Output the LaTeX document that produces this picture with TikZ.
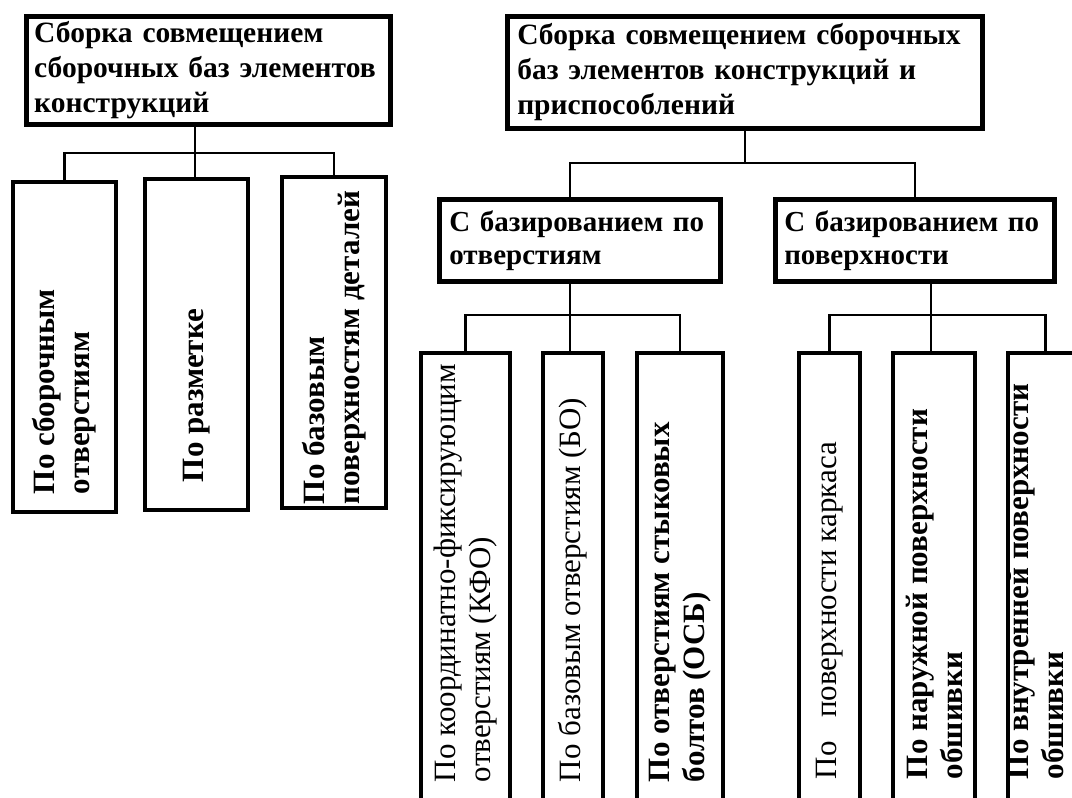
\documentclass[tikz,border=0pt]{standalone}
\usepackage{fontspec}
\setmainfont{Liberation Serif}
\usetikzlibrary{positioning}
\tikzstyle{topbox} = [rectangle, draw=black, line width=4.5pt, anchor=north west, align=left, inner ysep=2pt, font=\bfseries\fontsize{29.5}{35}\selectfont]
\tikzstyle{midbox} = [rectangle, draw=black, line width=4.5pt, anchor=north west, align=left, inner ysep=2pt, font=\bfseries\fontsize{29}{33}\selectfont]
\tikzstyle{vbox} = [rectangle, draw=black, line width=4.5pt]
\tikzstyle{vlabel} = [rotate=90, anchor=west, align=left, inner sep=0pt, font=\bfseries\fontsize{31}{35}\selectfont]
\tikzstyle{vlabel_thin} = [vlabel, font=\fontsize{31}{35}\selectfont]
\tikzstyle{link} = [line width=2.5pt]

\begin{document}
\begin{tikzpicture}[x=1pt, y=-1pt]
  \useasboundingbox (0,0) rectangle (1072,798);
  \clip (0,0) rectangle (1072,798);

  % left tree
  \node (ltop) [topbox, minimum width=364, minimum height=108, text width=348, inner xsep=8pt] at (24,14)
    {Сборка совмещением\\сборочных баз элементов\\конструкций};
  \node (l1) [vbox, minimum width=103, minimum height=330] at (64.5,347) {};
  \node (l2) [vbox, minimum width=103, minimum height=331] at (196.5,344.5) {};
  \node (l3) [vbox, minimum width=104, minimum height=331] at (334,342.5) {};
  \node (l1t) [vlabel] at ([yshift=20pt]l1.south) {По сборочным\\отверстиям};
  \node (l2t) [vlabel] at ([yshift=30pt]l2.south) {По разметке};
  \node (l3t) [vlabel] at ([yshift=6pt]l3.south) {По базовым\\поверхностям деталей};

  \coordinate (lbus) at (195,153);
  \draw [link] (ltop.south -| lbus) -- (lbus);
  \draw [link] (l1.north) |- (lbus) -| (l3.north);
  \draw [link] (lbus) -- (lbus |- l2.north);

  % right tree
  \node (rtop) [topbox, minimum width=475, minimum height=112, text width=455, inner xsep=10pt] at (505,14)
    {Сборка совмещением сборочных\\баз элементов конструкций и\\приспособлений};
  \node (ma) [midbox, minimum width=281, minimum height=82, text width=261, inner xsep=10pt] at (437,197)
    {С базированием по\\отверстиям};
  \node (mb) [midbox, minimum width=279, minimum height=82, text width=261, inner xsep=9pt] at (773,197)
    {С базированием по\\поверхности};

  \node (r1) [vbox, minimum width=89, minimum height=459] at (465.5,582.5) {};
  \node (r2) [vbox, minimum width=60, minimum height=459] at (573,582.5) {};
  \node (r3) [vbox, minimum width=86, minimum height=459] at (680,582.5) {};
  \node (r4) [vbox, minimum width=61, minimum height=459] at (829.5,582.5) {};
  \node (r5) [vbox, minimum width=82, minimum height=459] at (934,582.5) {};
  \node (r6) [vbox, minimum width=79, minimum height=459] at (1047.5,582.5) {};
  \node (r1t) [vlabel_thin] at ([yshift=32pt]r1.south) {По координатно-фиксирующим\\отверстиям (КФО)};
  \node (r2t) [vlabel_thin] at ([yshift=32pt]r2.south) {По базовым отверстиям (БО)};
  \node (r3t) [vlabel] at ([yshift=32pt]r3.south) {По отверстиям стыковых\\болтов (ОСБ)};
  \node (r4t) [vlabel_thin] at ([yshift=35pt]r4.south) {По\ \ \ поверхности каркаса};
  \node (r5t) [vlabel] at ([yshift=35pt]r5.south) {По наружной поверхности\\обшивки};
  \node (r6t) [vlabel] at ([yshift=35pt, xshift=-12pt]r6.south) {По внутренней поверхности\\обшивки};

  \coordinate (rbus) at (745,163);
  \coordinate (abus) at (570,315);
  \coordinate (bbus) at (931,315);
  \draw [link] (rtop.south -| rbus) -- (rbus);
  \draw [link] (ma.north -| abus) |- (rbus) -| (mb.north);
  \draw [link] (ma.south -| abus) -- (abus);
  \draw [link] (r1.north) |- (abus) -| (r3.north);
  \draw [link] (abus) -- (abus |- r2.north);
  \draw [link] (mb.south -| bbus) -- (bbus);
  \draw [link] (r4.north) |- (bbus) -| ([xshift=-2pt]r6.north);
  \draw [link] (bbus) -- (bbus |- r5.north);
\end{tikzpicture}
\end{document}
